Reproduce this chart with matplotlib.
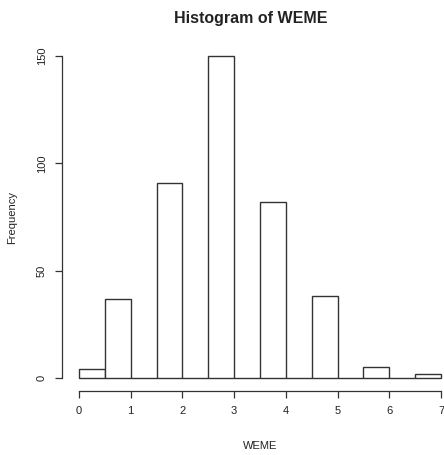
import matplotlib
matplotlib.use("Agg")
import matplotlib.pyplot as plt

# bin edges and counts
edges = [0, 0.5, 1, 1.5, 2, 2.5, 3, 3.5, 4, 4.5, 5, 5.5, 6, 6.5, 7]
counts = [4, 37, 0, 91, 0, 150, 0, 82, 0, 38, 0, 5, 0, 2]
xticks = [0, 1, 2, 3, 4, 5, 6, 7]
yticks = [0, 50, 100, 150]

plt.rcParams["font.family"] = ["Liberation Sans", "DejaVu Sans"]

fig = plt.figure(figsize=(4.44, 4.55), dpi=100)
ax = fig.add_axes([79 / 444, 1 - 378 / 455, (441 - 79) / 444, (378 - 56) / 455])

bars = ax.bar(edges[:-1], counts, width=0.5, align="edge", color="white",
              edgecolor="#333333", linewidth=1.0)
for b in bars:
    b.set_clip_on(False)
ax.set_xlim(0, 7)
ax.set_ylim(0, 150)

for s in ["top", "right"]:
    ax.spines[s].set_visible(False)
ax.spines["left"].set_position(("outward", 12.2))
ax.spines["bottom"].set_position(("outward", 9.4))
ax.spines["left"].set_bounds(0, 150)
ax.spines["bottom"].set_bounds(0, 7)
for s in ["left", "bottom"]:
    ax.spines[s].set_color("#333333")
    ax.spines[s].set_linewidth(0.9)

ax.set_xticks(xticks)
ax.set_yticks(yticks)
ax.set_yticklabels([str(v) for v in yticks], rotation=90, va="center")
ax.tick_params(axis="both", length=5, width=0.9, color="#333333",
               labelsize=8, labelcolor="#222222", pad=6)

ax.set_xlabel("WEME", fontsize=8, labelpad=18, color="#222222")
ax.set_ylabel("Frequency", fontsize=8, labelpad=14, color="#222222")
fig.text(0.565, 0.96, "Histogram of WEME", ha="center", va="center",
         fontsize=11.5, fontweight="bold", color="#222222")

fig.savefig("out.png", dpi=100)
